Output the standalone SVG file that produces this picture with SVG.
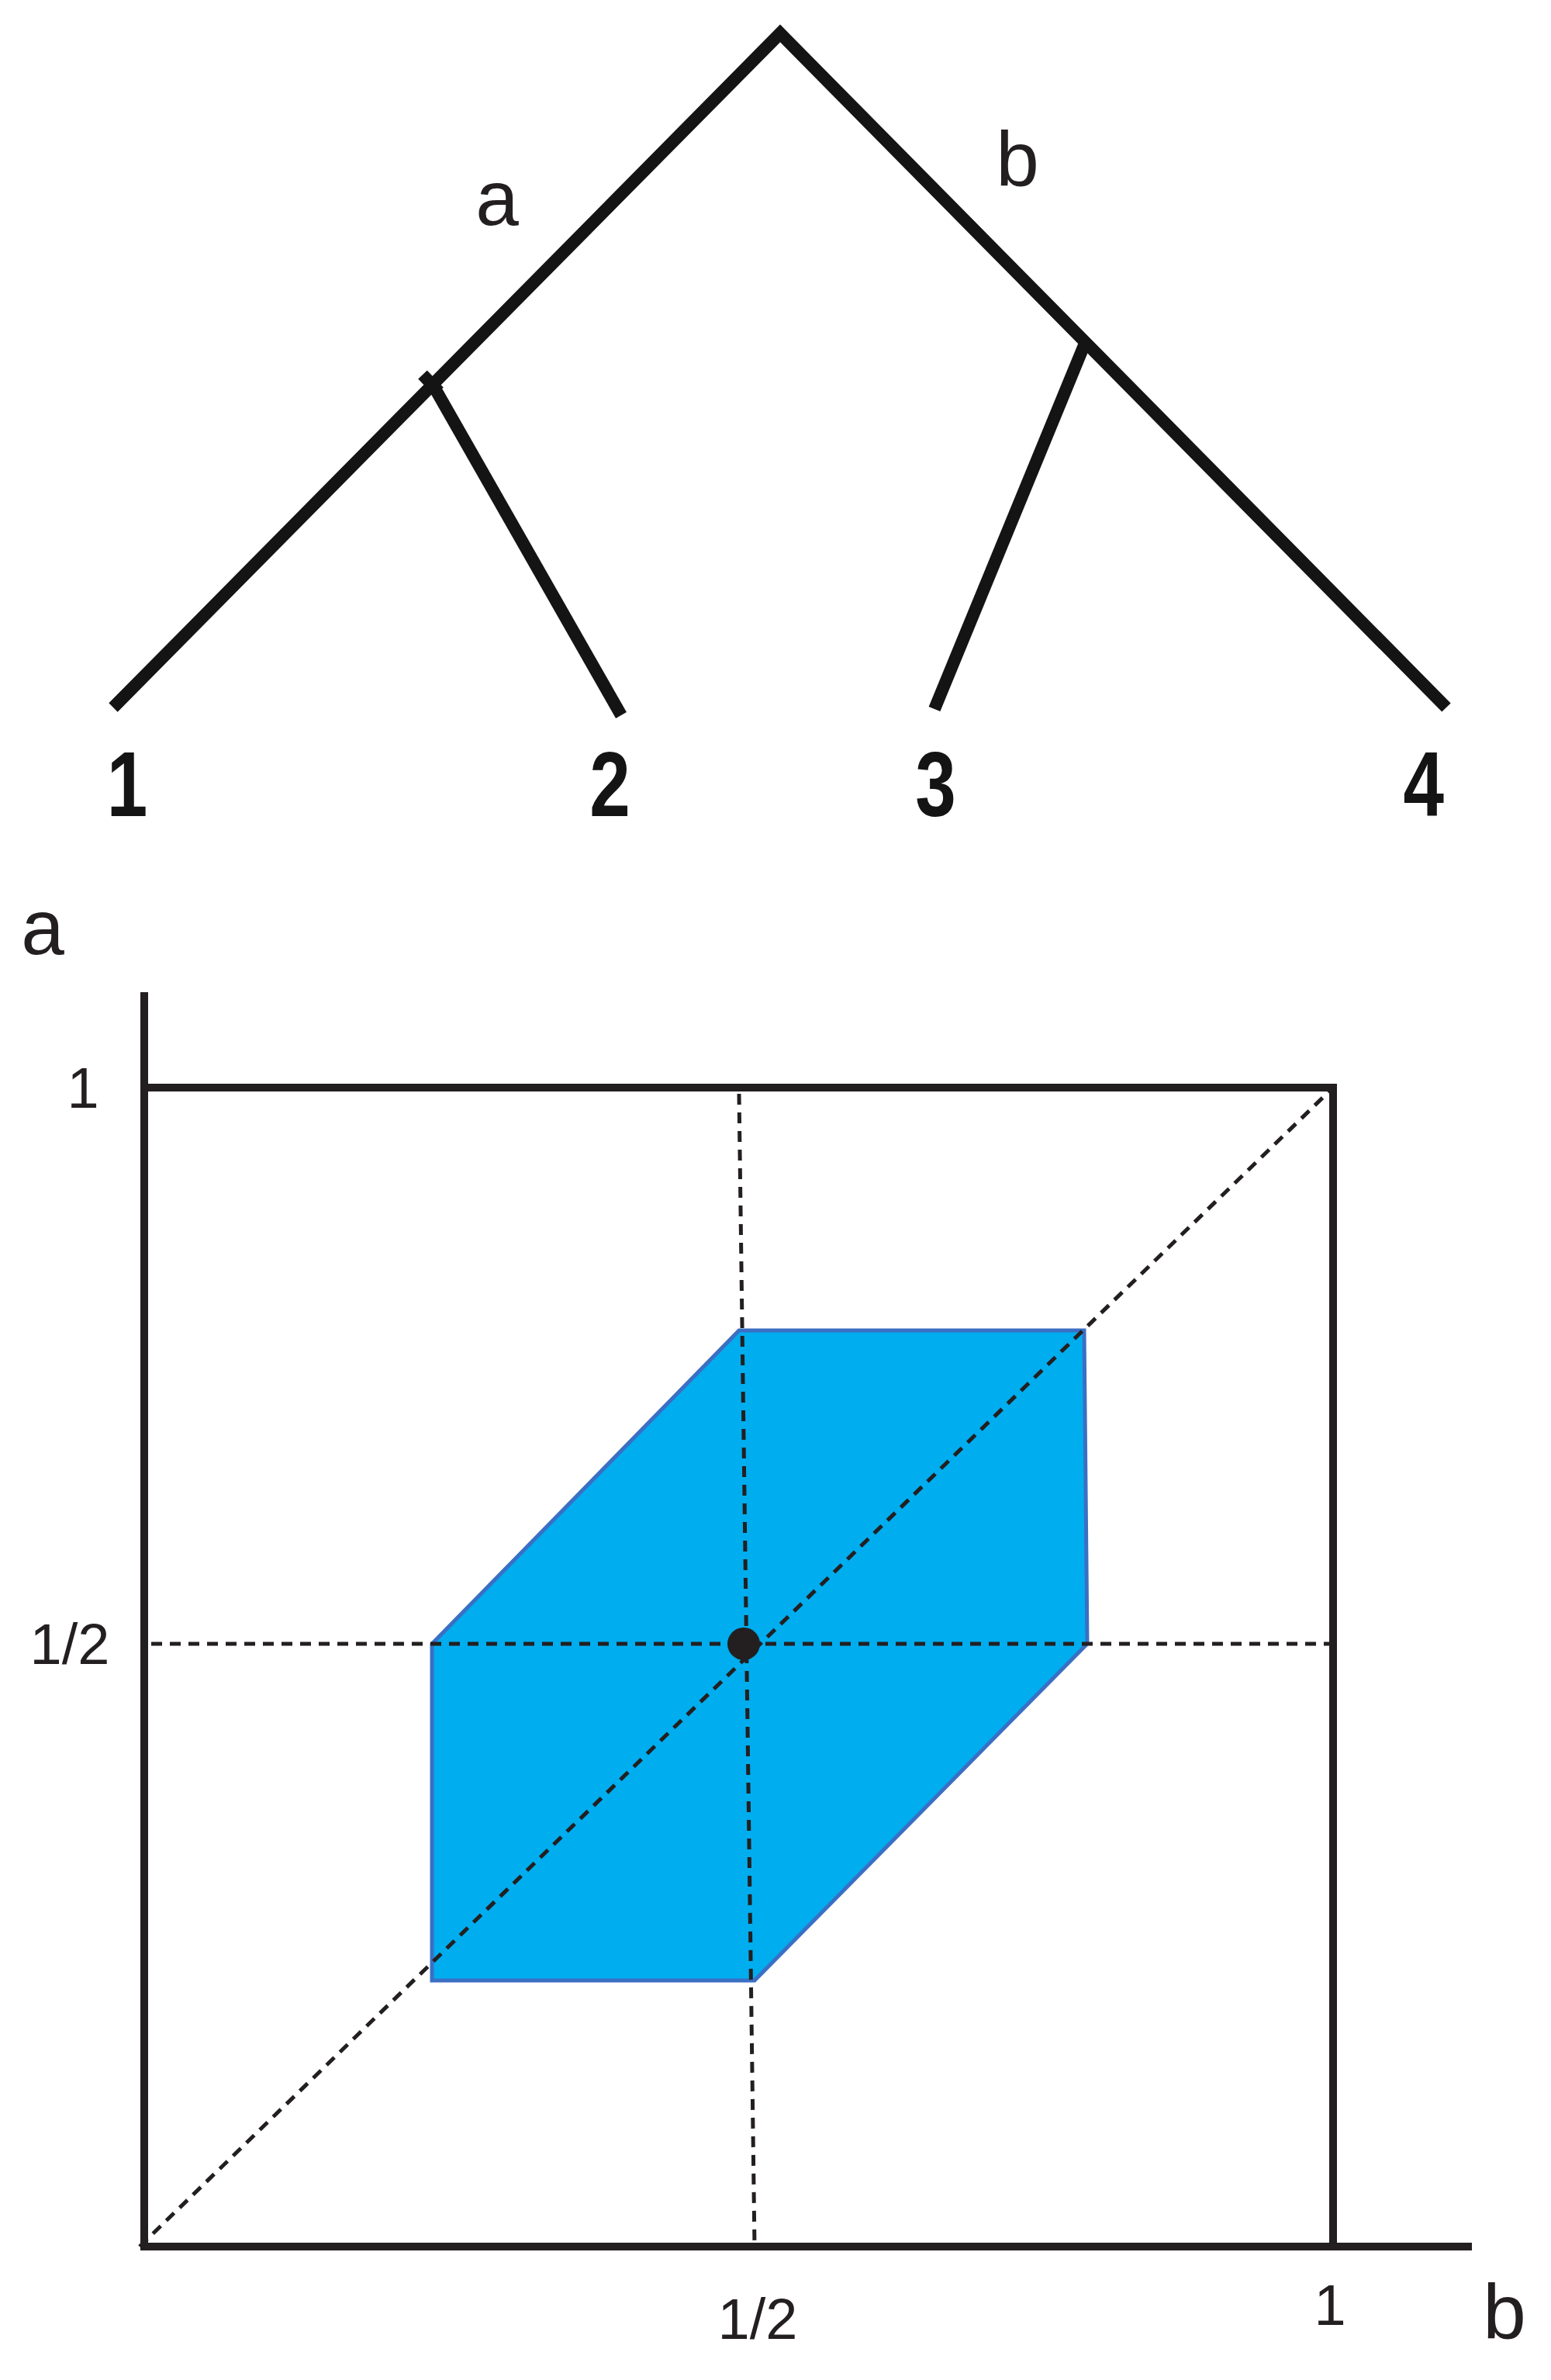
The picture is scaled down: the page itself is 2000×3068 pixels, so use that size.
<svg xmlns="http://www.w3.org/2000/svg" width="2000" height="3068" viewBox="0 0 2000 3068">
<style>
.t{stroke:#141414;stroke-width:16;fill:none}
.ax{stroke:#231f20;stroke-width:10;fill:none}
.d{stroke:#231f20;stroke-width:5;stroke-dasharray:14 10;fill:none}
.lb{font-family:"Liberation Sans",sans-serif;fill:#231f20}
.bd{font-family:"Liberation Sans",sans-serif;font-weight:bold;fill:#141414;font-size:118px;text-anchor:middle}
</style>
<rect width="2000" height="3068" fill="#fff"/>
<g id="connectors">
<polyline class="t" points="146,912 1006,43 1865,912"/>
<line class="t" x1="557" y1="494" x2="801" y2="922"/>
<line class="t" x1="1398" y1="445" x2="1205" y2="914"/>
<line class="t" x1="545" y1="483" x2="566" y2="505"/>
</g>
<g id="tree-labels">
<text class="lb" x="641" y="290" font-size="100" text-anchor="middle">a</text>
<text class="lb" x="1312" y="240" font-size="100" text-anchor="middle">b</text>
<text class="bd" x="164" y="1052" transform="scale(0.8,1) translate(41,0)">1</text>
<text class="bd" x="787" y="1052" transform="translate(157,0) scale(0.8,1)">2</text>
<text class="bd" x="1207" y="1052" transform="translate(241,0) scale(0.8,1)">3</text>
<text class="bd" x="1836" y="1052" transform="translate(367,0) scale(0.8,1)">4</text>
</g>
<g id="plot">
<polygon points="953,1715 1398,1715 1402,2119 973,2553 557,2553 557,2119" fill="#00adee" stroke="#3a6fc4" stroke-width="5"/>
<line class="d" x1="953" y1="1410" x2="973" y2="2896"/>
<line class="d" x1="195" y1="2119" x2="1719" y2="2119"/>
<line class="d" x1="180" y1="2896" x2="1719" y2="1402"/>
<polyline class="ax" points="186,1279 186,2896 1898,2896"/>
<polyline class="ax" points="186,1402 1719,1402 1719,2896"/>
<circle cx="959" cy="2119" r="21" fill="#231f20"/>
<text class="lb" x="55" y="1230" font-size="100" text-anchor="middle">a</text>
<text class="lb" x="107" y="1428" font-size="74" text-anchor="middle">1</text>
<text class="lb" x="90" y="2145" font-size="74" text-anchor="middle">1/2</text>
<text class="lb" x="977" y="3015" font-size="74" text-anchor="middle">1/2</text>
<text class="lb" x="1715" y="2997" font-size="74" text-anchor="middle">1</text>
<text class="lb" x="1940" y="3015" font-size="100" text-anchor="middle">b</text>
</g>
</svg>
